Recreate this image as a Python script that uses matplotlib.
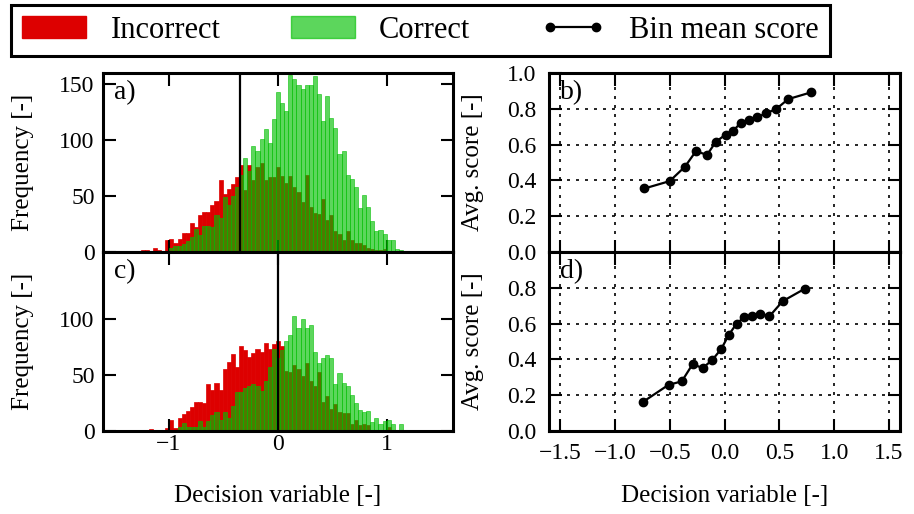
import numpy as np
import matplotlib
matplotlib.use('Agg')
import matplotlib.pyplot as plt
from matplotlib.patches import Patch
from matplotlib.lines import Line2D
from matplotlib.ticker import FuncFormatter

plt.rcParams['font.family'] = ['Liberation Serif', 'DejaVu Serif']

# histogram counts, bins k = -34 .. 34 (bin width 0.0375, centred on 0)
bin_w = 0.0375
k = np.arange(-34, 35)

a_incorrect = [0, 2, 2, 1, 4, 2, 1, 11, 12, 8, 12, 17, 17, 26, 22, 33, 36, 36, 42, 46,
               64, 52, 56, 61, 67, 78, 55, 78, 64, 76, 80, 64, 67, 67,
               76,
               68, 62, 68, 58, 54, 45, 69, 40, 35, 34, 47, 29, 33, 19, 16, 11, 19, 11,
               8, 8, 6, 4, 3, 2, 2, 3, 0, 0, 0, 0, 0, 0, 0, 0]
a_correct = [0, 0, 0, 0, 0, 0, 1, 1, 4, 5, 5, 7, 10, 13, 21, 15, 23, 23, 22, 33,
             30, 49, 42, 50, 58, 69, 84, 72, 95, 90, 101, 110, 97, 119,
             143,
             133, 126, 158, 155, 149, 146, 149, 149, 157, 141, 117, 139, 120, 111, 88, 90, 69, 65,
             58, 39, 51, 40, 28, 19, 20, 16, 11, 11, 3, 2, 1, 1, 0, 0]
c_incorrect = [1, 1, 1, 2, 0, 0, 1, 3, 10, 3, 12, 15, 18, 21, 26, 26, 25, 42, 37, 43,
               37, 55, 62, 69, 57, 76, 72, 66, 70, 73, 71, 79, 73, 78,
               80,
               76, 54, 53, 59, 55, 49, 61, 45, 40, 53, 26, 31, 20, 24, 17, 16, 16, 6,
               10, 5, 6, 5, 0, 0, 0, 0, 4, 0, 0, 0, 0, 0, 0, 0]
c_correct = [0, 0, 0, 0, 0, 0, 0, 0, 0, 1, 4, 7, 4, 4, 4, 9, 4, 9, 14, 17,
             10, 17, 12, 22, 35, 35, 38, 40, 42, 40, 36, 45, 57, 73,
             65,
             72, 80, 86, 103, 92, 100, 92, 95, 71, 61, 65, 68, 65, 42, 52, 43, 40, 32,
             25, 19, 17, 18, 8, 12, 6, 9, 10, 6, 0, 6, 0, 0, 0, 0]

# bin mean scores
b_x = [-0.73, -0.50, -0.36, -0.26, -0.16, -0.08, 0.01, 0.08, 0.15, 0.22, 0.30, 0.38, 0.47, 0.58, 0.79]
b_y = [0.355, 0.396, 0.477, 0.564, 0.542, 0.615, 0.656, 0.678, 0.723, 0.738, 0.753, 0.776, 0.798, 0.854, 0.892]
d_x = [-0.74, -0.51, -0.39, -0.29, -0.20, -0.11, -0.03, 0.04, 0.11, 0.18, 0.25, 0.32, 0.41, 0.53, 0.73]
d_y = [0.164, 0.258, 0.277, 0.374, 0.351, 0.398, 0.458, 0.538, 0.600, 0.636, 0.641, 0.656, 0.641, 0.725, 0.794]

red = '#dd0000'
green = '#00bf00'
galpha = 0.64

fig = plt.figure(figsize=(9.14, 5.14), dpi=100)
axa = fig.add_axes([0.1127, 0.5097, 0.3829, 0.3483])
axc = fig.add_axes([0.1127, 0.1615, 0.3829, 0.3483])
axb = fig.add_axes([0.6007, 0.5097, 0.3840, 0.3483])
axd = fig.add_axes([0.6007, 0.1615, 0.3840, 0.3483])

centers = k * bin_w
for ax, inc, cor, vline in [(axa, a_incorrect, a_correct, -0.35), (axc, c_incorrect, c_correct, 0.0)]:
    ax.bar(centers, inc, width=bin_w, color=red, edgecolor=red, linewidth=0.5, zorder=1)
    ax.bar(centers, cor, width=bin_w, color=green, edgecolor=green, linewidth=0.6,
           alpha=galpha, zorder=2)
    ax.axvline(vline, color='k', lw=1.6, zorder=3)
    ax.set_xlim(-1.6, 1.6)
    ax.set_ylim(0, 160)
    ax.set_xticks([-1, 0, 1])
    ax.set_ylabel('Frequency [-]', fontsize=18)
    ax.yaxis.set_label_coords(-0.197, 0.5)

axa.set_yticks([0, 50, 100, 150])
axc.set_yticks([0, 50, 100])
axa.set_xticklabels([])
axc.set_xlabel('Decision variable [-]', fontsize=18, labelpad=22)

for ax, xs, ys in [(axb, b_x, b_y), (axd, d_x, d_y)]:
    ax.plot(xs, ys, 'k-o', lw=1.6, ms=6, zorder=3)
    ax.set_xlim(-1.6, 1.6)
    ax.set_ylim(0, 1.0)
    ax.set_xticks([-1.5, -1.0, -0.5, 0.0, 0.5, 1.0, 1.5])
    ax.grid(True, color='k', linestyle=(0, (1.8, 3.6)), lw=1.2)
    ax.set_axisbelow(True)
    ax.set_ylabel('Avg. score [-]', fontsize=18)
    ax.yaxis.set_label_coords(-0.185, 0.5)

axb.set_yticks([0.0, 0.2, 0.4, 0.6, 0.8, 1.0])
axd.set_yticks([0.0, 0.2, 0.4, 0.6, 0.8])
axb.set_xticklabels([])
axd.set_xlabel('Decision variable [-]', fontsize=18, labelpad=15)

one_dec = FuncFormatter(lambda v, p: ('%.1f' % v).replace('-', '\u2212'))
for ax in [axa, axc, axb, axd]:
    ax.tick_params(direction='in', top=True, right=True, length=9, width=1.5,
                   labelsize=17, pad=6)
    for s in ax.spines.values():
        s.set_linewidth(2.2)
for ax in [axb, axd]:
    ax.yaxis.set_major_formatter(one_dec)
    ax.tick_params(axis='y', pad=9)
axd.xaxis.set_major_formatter(one_dec)
axc.tick_params(axis='x', pad=2)
axd.tick_params(axis='x', pad=9)

for ax, lab in [(axa, 'a)'), (axb, 'b)'), (axc, 'c)'), (axd, 'd)')]:
    ax.text(0.03, 0.96, lab, transform=ax.transAxes, fontsize=20, va='top', ha='left')

handles = [Patch(facecolor=red, edgecolor=red),
           Patch(facecolor=green, edgecolor=green, alpha=galpha),
           Line2D([], [], color='k', marker='o', lw=1.6, ms=6)]
leg = fig.legend(handles, ['Incorrect', 'Correct', 'Bin mean score'], loc='center',
                 bbox_to_anchor=(0.46, 0.941), ncol=3, fontsize=22, numpoints=2,
                 fancybox=False, handlelength=2.1, columnspacing=2.3,
                 borderpad=0.35, framealpha=1)
leg.get_frame().set_edgecolor('k')
leg.get_frame().set_linewidth(2.2)

plt.savefig('out.png', dpi=100)
